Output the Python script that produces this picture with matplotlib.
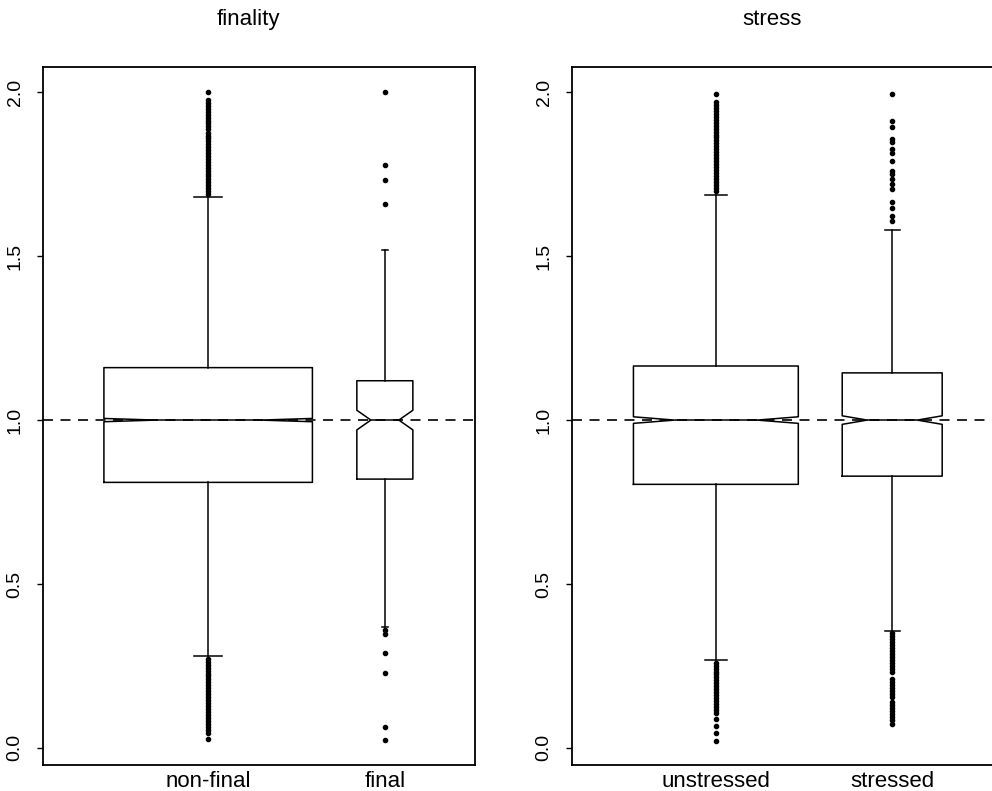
import matplotlib
matplotlib.use('Agg')
import matplotlib.pyplot as plt

plt.rcParams['font.family'] = ['Liberation Sans', 'DejaVu Sans']

# finality panel
fin_labels = ['non-final', 'final']
fin_med = [1.0, 1.0]
fin_q1 = [0.81, 0.82]
fin_q3 = [1.16, 1.12]
fin_whislo = [0.28, 0.37]
fin_whishi = [1.68, 1.52]
fin_cilo = [0.995, 0.97]
fin_cihi = [1.005, 1.03]
nonfinal_out = [2.0, 1.976, 1.967, 1.958, 1.95, 1.941, 1.932, 1.922, 1.913, 1.905,
                1.896, 1.887, 1.877, 1.868, 1.86, 1.851, 1.842, 1.833, 1.823, 1.815,
                1.806, 1.797, 1.788, 1.778, 1.77, 1.761, 1.752, 1.743, 1.734, 1.725,
                1.716, 1.707, 1.698, 1.69,
                0.272, 0.263, 0.254, 0.245, 0.236, 0.227, 0.218, 0.209, 0.2, 0.191,
                0.182, 0.173, 0.164, 0.155, 0.146, 0.137, 0.128, 0.119, 0.11, 0.101,
                0.092, 0.083, 0.074, 0.065, 0.056, 0.047, 0.027]
final_out = [2.0, 1.777, 1.731, 1.66, 0.361, 0.349, 0.29, 0.229, 0.064, 0.024]

# stress panel
str_labels = ['unstressed', 'stressed']
str_med = [1.0, 1.0]
str_q1 = [0.804, 0.829]
str_q3 = [1.165, 1.144]
str_whislo = [0.269, 0.358]
str_whishi = [1.688, 1.581]
str_cilo = [0.99, 0.987]
str_cihi = [1.01, 1.013]
unstressed_out = [1.995, 1.97, 1.961, 1.952, 1.943, 1.934, 1.925, 1.916, 1.907, 1.898,
                  1.889, 1.88, 1.871, 1.862, 1.853, 1.844, 1.835, 1.826, 1.817, 1.808,
                  1.799, 1.79, 1.781, 1.772, 1.763, 1.754, 1.745, 1.736, 1.727, 1.718,
                  1.709, 1.70,
                  0.26, 0.251, 0.242, 0.233, 0.224, 0.215, 0.206, 0.197, 0.188, 0.179,
                  0.17, 0.161, 0.152, 0.143, 0.134, 0.125, 0.116, 0.107,
                  0.089, 0.067, 0.046, 0.021]
stressed_out = [1.995, 1.911, 1.893, 1.856, 1.847, 1.826, 1.816, 1.79, 1.76, 1.75,
                1.734, 1.719, 1.706, 1.664, 1.648, 1.621, 1.606,
                0.35, 0.341, 0.332, 0.323, 0.314, 0.305, 0.296, 0.287, 0.278, 0.269,
                0.26, 0.251, 0.242, 0.233,
                0.21, 0.201, 0.192, 0.183, 0.174, 0.165, 0.156,
                0.14, 0.131, 0.122, 0.113, 0.104, 0.095, 0.086, 0.073]

yticks = [0.0, 0.5, 1.0, 1.5, 2.0]


def make_stats(labels, med, q1, q3, lo, hi, cilo, cihi, outs):
    stats = []
    for i in range(len(labels)):
        stats.append(dict(label=labels[i], med=med[i], q1=q1[i], q3=q3[i],
                          whislo=lo[i], whishi=hi[i], cilo=cilo[i], cihi=cihi[i],
                          fliers=outs[i]))
    return stats


fig = plt.figure(figsize=(9.92, 7.91), dpi=100)
ax1 = fig.add_axes([0.0433, 0.0329, 0.4355, 0.8824])
ax2 = fig.add_axes([0.5766, 0.0329, 0.4250, 0.8824])

lw = 1.1
panels = [
    (ax1, 'finality', make_stats(fin_labels, fin_med, fin_q1, fin_q3, fin_whislo, fin_whishi,
                                 fin_cilo, fin_cihi, [nonfinal_out, final_out]),
     [1.18, 0.317], [0.16, 0.035], (0.065, 2.51)),
    (ax2, 'stress', make_stats(str_labels, str_med, str_q1, str_q3, str_whislo, str_whishi,
                               str_cilo, str_cihi, [unstressed_out, stressed_out]),
     [0.935, 0.567], [0.125, 0.085], (0.184, 2.575)),
]

for ax, title, stats, widths, caps, xl in panels:
    ax.bxp(stats, positions=[1, 2], widths=widths, capwidths=caps, shownotches=True,
           boxprops=dict(color='black', linewidth=lw),
           whiskerprops=dict(color='black', linewidth=lw),
           capprops=dict(color='black', linewidth=lw),
           medianprops=dict(color='black', linewidth=lw),
           flierprops=dict(marker='o', markersize=3.0, markerfacecolor='black',
                           markeredgecolor='black', linestyle='none'))
    ax.axhline(1.0, color='black', linewidth=1.2, linestyle=(0, (6, 4.5)), zorder=3)
    ax.set_xlim(*xl)
    ax.set_ylim(-0.052, 2.077)
    ax.set_yticks(yticks)
    ax.set_yticklabels(['%.1f' % v for v in yticks], rotation=90, va='center', fontsize=14)
    ax.tick_params(axis='y', length=4, width=1, pad=10)
    ax.tick_params(axis='x', length=0, pad=4, labelsize=16)
    ax.set_title(title, fontsize=16, pad=30)
    ax.title.set_x(0.475)
    for s in ax.spines.values():
        s.set_linewidth(1.3)

fig.savefig('out.png', dpi=100)
